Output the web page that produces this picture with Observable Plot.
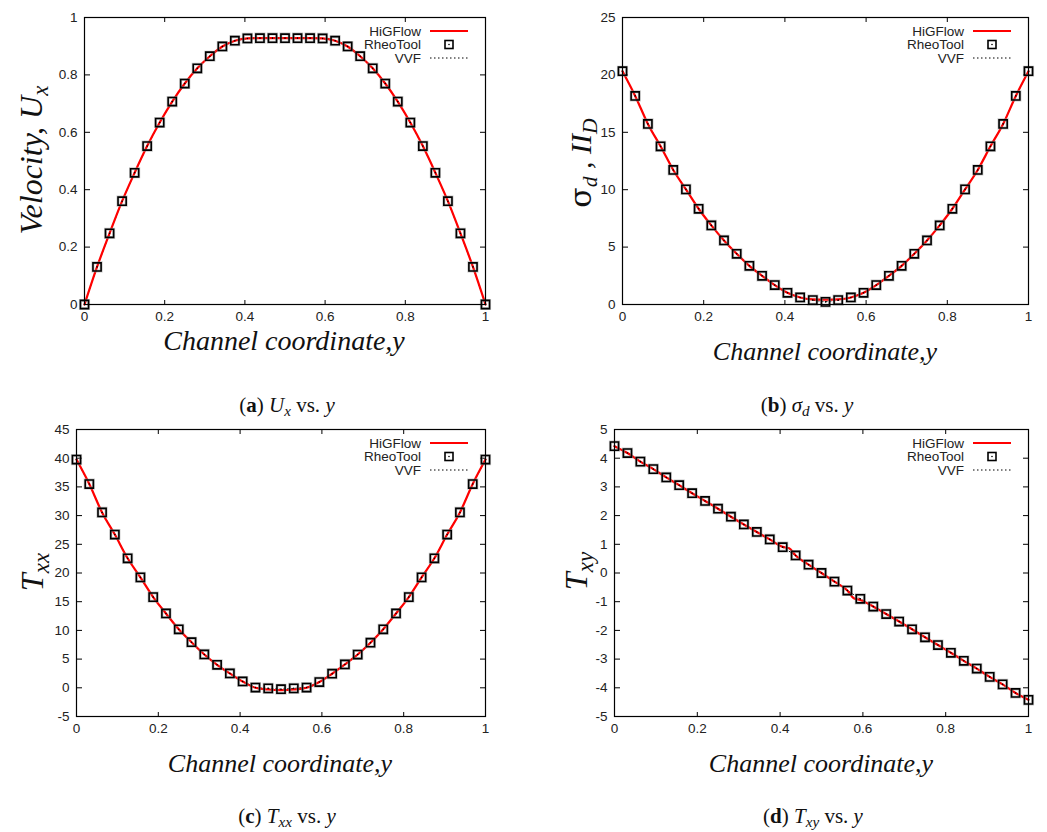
<!DOCTYPE html>
<html>
<head>
<meta charset="utf-8">
<script src="https://cdn.jsdelivr.net/npm/d3@7"></script>
<script src="https://cdn.jsdelivr.net/npm/@observablehq/plot@0.6"></script>
<style>
  body { margin: 0; background: #fff; }
  #fig { position: relative; width: 1047px; height: 832px; background: #fff; overflow: hidden; }
  #fig > svg { position: absolute; }
  #overlay { left: 0; top: 0; pointer-events: none; }
</style>
</head>
<body>
<div id="fig"></div>
<script>
// Channel coordinate of the sampled points (33 cells across the channel)
const coord = [0, 0.03125, 0.0625, 0.09375, 0.125, 0.15625, 0.1875, 0.21875, 0.25, 0.28125,
  0.3125, 0.34375, 0.375, 0.40625, 0.4375, 0.46875, 0.5, 0.53125, 0.5625, 0.59375, 0.625,
  0.65625, 0.6875, 0.71875, 0.75, 0.78125, 0.8125, 0.84375, 0.875, 0.90625, 0.9375, 0.96875, 1];

// Velocity U_x
const uxRheo = [0, 0.131, 0.248, 0.360, 0.459, 0.552, 0.634, 0.707, 0.770, 0.823, 0.865, 0.899,
  0.919, 0.927, 0.928, 0.928, 0.928, 0.928, 0.928, 0.927, 0.919,
  0.899, 0.865, 0.823, 0.770, 0.707, 0.634, 0.552, 0.459, 0.360, 0.248, 0.131, 0];
const uxHiG = uxRheo.slice();
const uxVVF = uxRheo.slice();

// sigma_d
const sdRheo = [20.32, 18.17, 15.73, 13.78, 11.72, 10.03, 8.34, 6.89, 5.58, 4.42, 3.37, 2.50,
  1.69, 1.02, 0.61, 0.38, 0.23, 0.38, 0.61, 1.02, 1.69, 2.50, 3.37, 4.42, 5.58, 6.89, 8.34,
  10.03, 11.72, 13.78, 15.73, 18.17, 20.32];
const sdHiG = [20.32, 18.17, 15.73, 13.78, 11.72, 10.03, 8.34, 6.89, 5.58, 4.42, 3.37, 2.50,
  1.69, 1.02, 0.61, 0.45, 0.42, 0.45, 0.61, 1.02, 1.69, 2.50, 3.37, 4.42, 5.58, 6.89, 8.34,
  10.03, 11.72, 13.78, 15.73, 18.17, 20.32];
const sdVVF = sdRheo.slice();

// T_xx
const txxRheo = [39.76, 35.5, 30.55, 26.7, 22.56, 19.24, 15.8, 12.95, 10.2, 7.94, 5.81, 4.01,
  2.5, 1.1, 0.05, -0.1, -0.25, -0.1, 0.05, 1.0, 2.45, 4.07, 5.8, 7.85, 10.2, 12.95, 15.8,
  19.24, 22.56, 26.7, 30.55, 35.5, 39.76];
const txxHiG = [39.76, 35.5, 30.55, 26.7, 22.56, 19.24, 15.8, 12.95, 10.2, 7.94, 5.81, 4.01,
  2.5, 1.1, 0.0, -0.3, -0.4, -0.3, 0.0, 1.0, 2.45, 4.07, 5.8, 7.85, 10.2, 12.95, 15.8,
  19.24, 22.56, 26.7, 30.55, 35.5, 39.76];
const txxVVF = txxRheo.slice();

// T_xy
const txyRheo = [4.42, 4.18, 3.88, 3.62, 3.33, 3.06, 2.78, 2.51, 2.24, 1.96, 1.69, 1.43, 1.17,
  0.90, 0.61, 0.29, 0.0, -0.30, -0.61, -0.90, -1.17, -1.43, -1.69, -1.96, -2.24, -2.51, -2.78,
  -3.06, -3.33, -3.62, -3.88, -4.18, -4.42];
const txyVVF = txyRheo.slice();
// HiGFlow profile is sampled slightly finer around the yield surfaces
const txyHiGCoord = [0, 0.03125, 0.0625, 0.09375, 0.125, 0.15625, 0.1875, 0.21875, 0.25, 0.28125,
  0.3125, 0.34375, 0.375, 0.40625, 0.422, 0.4375, 0.46875, 0.5, 0.53125, 0.5625, 0.578, 0.59375,
  0.625, 0.65625, 0.6875, 0.71875, 0.75, 0.78125, 0.8125, 0.84375, 0.875, 0.90625, 0.9375, 0.96875, 1];
const txyHiG = [4.42, 4.18, 3.88, 3.62, 3.33, 3.06, 2.78, 2.51, 2.24, 1.96, 1.69, 1.43, 1.17,
  0.91, 0.86, 0.61, 0.29, 0.0, -0.30, -0.61, -0.88, -0.94, -1.17, -1.43, -1.69, -1.96, -2.24,
  -2.51, -2.78, -3.06, -3.33, -3.62, -3.88, -4.18, -4.42];

// Tick values
const xTicks = [0, 0.2, 0.4, 0.6, 0.8, 1];
const uxTicks = [0, 0.2, 0.4, 0.6, 0.8, 1];
const sdTicks = [0, 5, 10, 15, 20, 25];
const txxTicks = [-5, 0, 5, 10, 15, 20, 25, 30, 35, 40, 45];
const txyTicks = [-5, -4, -3, -2, -1, 0, 1, 2, 3, 4, 5];

const seriesNames = ["HiGFlow", "RheoTool", "VVF"];

const fig = document.getElementById("fig");
const fmt = d => String(d);
const zip = (xs, vs) => xs.map((c, i) => ({c, v: vs[i]}));

function panel(o) {
  const rheo = zip(coord, o.rheo);
  const hig = zip(o.higCoord || coord, o.hig);
  const vvf = zip(coord, o.vvf);
  const innerW = o.w - o.ml - o.mr;
  const innerH = o.h - o.mt - o.mb;
  const svg = Plot.plot({
    width: o.w, height: o.h,
    marginLeft: o.ml, marginRight: o.mr, marginTop: o.mt, marginBottom: o.mb,
    x: {domain: [0, 1]},
    y: {domain: o.domain},
    style: {fontFamily: "'Liberation Sans', Arial, sans-serif", fontSize: "13.5px", color: "#222", background: "transparent"},
    marks: [
      // tick labels
      Plot.axisX(xTicks, {anchor: "bottom", tickSize: 0, tickPadding: 7, tickFormat: fmt, label: null}),
      Plot.axisY(o.ticks, {anchor: "left", tickSize: 0, tickPadding: 7, tickFormat: fmt, label: null}),
      // inward tick marks on all four sides of the frame
      Plot.axisX(xTicks, {anchor: "top", tickSize: 5, fill: "none", label: null, stroke: "#000", dy: innerH}),
      Plot.axisX(xTicks, {anchor: "bottom", tickSize: 5, fill: "none", label: null, stroke: "#000", dy: -innerH}),
      Plot.axisY(o.ticks, {anchor: "right", tickSize: 5, fill: "none", label: null, stroke: "#000", dx: -innerW}),
      Plot.axisY(o.ticks, {anchor: "left", tickSize: 5, fill: "none", label: null, stroke: "#000", dx: innerW}),
      // series
      Plot.line(vvf, {x: "c", y: "v", stroke: "#000", strokeWidth: 1, strokeDasharray: "1.5,2.5"}),
      Plot.line(hig, {x: "c", y: "v", stroke: "#f00", strokeWidth: 2.2, curve: "monotone-x"}),
      Plot.dot(rheo, {x: "c", y: "v", symbol: "square", r: 4.6, stroke: "#999", strokeWidth: 3, strokeOpacity: 0.55}),
      Plot.dot(rheo, {x: "c", y: "v", symbol: "square", r: 4.6, stroke: "#000", strokeWidth: 1.6}),
      Plot.dot(rheo, {x: "c", y: "v", r: 0.8, fill: "#000", stroke: "none"}),
      Plot.frame({stroke: "#000", strokeWidth: 1.2})
    ]
  });
  svg.style.left = o.left + "px";
  svg.style.top = o.top + "px";
  fig.appendChild(svg);
}

const panels = [
  {left: 0, top: 0, w: 520, h: 340, ml: 84, mr: 35, mt: 17, mb: 36, domain: [0, 1], ticks: uxTicks, rheo: uxRheo, hig: uxHiG, vvf: uxVVF},
  {left: 520, top: 0, w: 527, h: 340, ml: 102, mr: 19, mt: 17, mb: 36, domain: [0, 25], ticks: sdTicks, rheo: sdRheo, hig: sdHiG, vvf: sdVVF},
  {left: 0, top: 400, w: 520, h: 340, ml: 76, mr: 35, mt: 29, mb: 24, domain: [-5, 45], ticks: txxTicks, rheo: txxRheo, hig: txxHiG, vvf: txxVVF},
  {left: 520, top: 400, w: 527, h: 340, ml: 94, mr: 19, mt: 29, mb: 24, domain: [-5, 5], ticks: txyTicks, rheo: txyRheo, hig: txyHiG, higCoord: txyHiGCoord, vvf: txyVVF}
];
panels.forEach(panel);

// Overlay: axis titles, legends and sub-figure captions
const ov = d3.select(fig).append("svg").attr("id", "overlay").attr("width", 1047).attr("height", 832);
const serif = "'Liberation Serif', 'DejaVu Serif', serif";
const sans = "'Liberation Sans', Arial, sans-serif";

function richText(g, parts, attrs) {
  const t = g.append("text");
  Object.entries(attrs).forEach(([k, v]) => t.attr(k, v));
  parts.forEach(p => {
    const s = t.append("tspan").text(p.t);
    if (p.sub) s.attr("baseline-shift", "-28%").attr("font-size", "72%");
    if (p.style) s.attr("font-style", p.style);
    if (p.family) s.attr("font-family", p.family);
    if (p.weight) s.attr("font-weight", p.weight);
  });
  return t;
}

// x-axis titles
[[284, 350, 28], [825, 360, 26], [280, 772, 26], [821, 772, 26]].forEach(([x, y, fs]) => {
  ov.append("text").attr("x", x).attr("y", y).attr("text-anchor", "middle")
    .attr("font-family", serif).attr("font-style", "italic").attr("font-size", fs)
    .attr("fill", "#111").text("Channel coordinate,y");
});

// y-axis titles (rotated)
function yTitle(x, y, fs, parts) {
  const g = ov.append("g").attr("transform", `translate(${x},${y}) rotate(-90)`);
  richText(g, parts, {"text-anchor": "middle", "font-family": serif, "font-style": "italic", "font-size": fs, fill: "#111"});
}
yTitle(42, 160, 32, [{t: "Velocity, U"}, {t: "x", sub: true}]);
yTitle(591, 163, 30, [{t: "σ", style: "normal", family: "'DejaVu Serif', serif"}, {t: "d", sub: true}, {t: " , II"}, {t: "D", sub: true}]);
yTitle(43, 572, 32, [{t: "T"}, {t: "xx", sub: true}]);
yTitle(587, 571, 32, [{t: "T"}, {t: "xy", sub: true}]);

// legends, placed from each frame's top-right corner
[[485, 17], [1028, 17], [485, 429], [1028, 429]].forEach(([R, T]) => {
  const g = ov.append("g");
  seriesNames.forEach((name, i) => {
    const cy = T + 14 + i * 13.5;
    g.append("text").attr("x", R - 64).attr("y", cy + 4.8).attr("text-anchor", "end")
      .attr("font-family", sans).attr("font-size", 13.5).attr("fill", "#222").text(name);
  });
  g.append("line").attr("x1", R - 55).attr("x2", R - 17).attr("y1", T + 14).attr("y2", T + 14)
    .attr("stroke", "#f00").attr("stroke-width", 2.2);
  g.append("rect").attr("x", R - 40).attr("y", T + 23.5).attr("width", 8).attr("height", 8)
    .attr("fill", "none").attr("stroke", "#000").attr("stroke-width", 1.6);
  g.append("circle").attr("cx", R - 36).attr("cy", T + 27.5).attr("r", 0.8).attr("fill", "#000");
  g.append("line").attr("x1", R - 55).attr("x2", R - 17).attr("y1", T + 41).attr("y2", T + 41)
    .attr("stroke", "#000").attr("stroke-width", 1).attr("stroke-dasharray", "1.5,2.5");
});

// captions
const capParts = [
  [287, 412, "a", [{t: "U", style: "italic"}, {t: "x", sub: true, style: "italic"}]],
  [807, 412, "b", [{t: "σ", style: "italic"}, {t: "d", sub: true, style: "italic"}]],
  [287, 823, "c", [{t: "T", style: "italic"}, {t: "xx", sub: true, style: "italic"}]],
  [813, 823, "d", [{t: "T", style: "italic"}, {t: "xy", sub: true, style: "italic"}]]
];
capParts.forEach(([x, y, letter, sym]) => {
  richText(ov, [{t: "("}, {t: letter, weight: "bold"}, {t: ") "}, ...sym, {t: " vs. "}, {t: "y", style: "italic"}],
    {x, y, "text-anchor": "middle", "font-family": serif, "font-size": 21, fill: "#111"});
});
</script>
</body>
</html>
